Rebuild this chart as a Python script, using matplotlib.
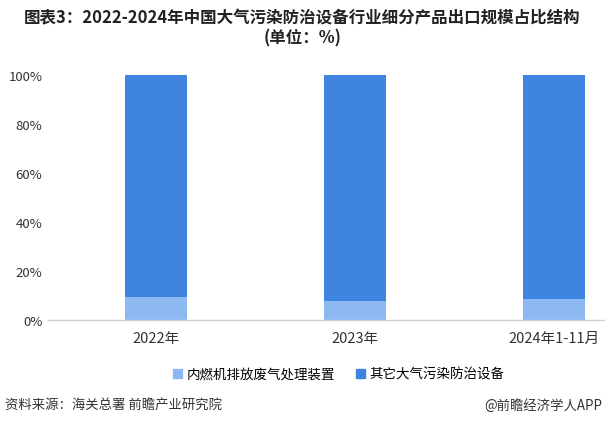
import matplotlib
matplotlib.use("Agg")
import matplotlib.pyplot as plt
from matplotlib.patches import Patch

plt.rcParams['font.family'] = ['Noto Sans CJK SC', 'DejaVu Sans']

categories = ['2022年', '2023年', '2024年1-11月']
series_names = ['内燃机排放废气处理装置', '其它大气污染防治设备']
engine_share = [9.3, 7.6, 8.4]
other_share = [90.7, 92.4, 91.6]
y_ticks = [0, 20, 40, 60, 80, 100]
y_tick_labels = ['0%', '20%', '40%', '60%', '80%', '100%']

c_light = '#8db9f2'
c_dark = '#3f84e0'

fig = plt.figure(figsize=(6.05, 4.27), dpi=100)
ax = fig.add_axes([0.0793, 0.2482, 0.9207, 0.5738])

x = list(range(len(categories)))
w = 0.31
ax.bar(x, engine_share, width=w, color=c_light, zorder=2)
ax.bar(x, other_share, width=w, bottom=engine_share, color=c_dark, zorder=2)

ax.set_xlim(-0.544, 2.255)
ax.set_ylim(0, 100)
ax.set_yticks(y_ticks)
ax.set_yticklabels(y_tick_labels, fontsize=9.5, color='#333333')
ax.set_xticks(x)
ax.set_xticklabels(categories, fontsize=10.5, color='#333333')
ax.tick_params(axis='y', length=0, pad=4)
ax.tick_params(axis='x', length=0, pad=8)
for s in ['top', 'right', 'left']:
    ax.spines[s].set_visible(False)
ax.spines['bottom'].set_color('#d0d0d0')
ax.spines['bottom'].set_linewidth(1)

handles = [Patch(color=c_light), Patch(color=c_dark)]
fig.legend(handles, series_names, loc='center', bbox_to_anchor=(0.56, 0.122),
           ncol=2, frameon=False, fontsize=9.7, handlelength=0.65, handleheight=0.65,
           handletextpad=0.3, columnspacing=1.6)

fig.text(0.5, 0.958, '图表3：2022-2024年中国大气污染防治设备行业细分产品出口规模占比结构',
         ha='center', va='center', fontsize=11.9, fontweight='bold', color='#222222')
fig.text(0.5, 0.911, '(单位：%)', ha='center', va='center', fontsize=11.9,
         fontweight='bold', color='#222222')

fig.text(0.008, 0.05, '资料来源：海关总署 前瞻产业研究院', ha='left', va='center',
         fontsize=9.6, color='#333333')
fig.text(0.995, 0.05, '@前瞻经济学人APP', ha='right', va='center',
         fontsize=9.6, color='#333333')

fig.savefig('out.png', dpi=100)
